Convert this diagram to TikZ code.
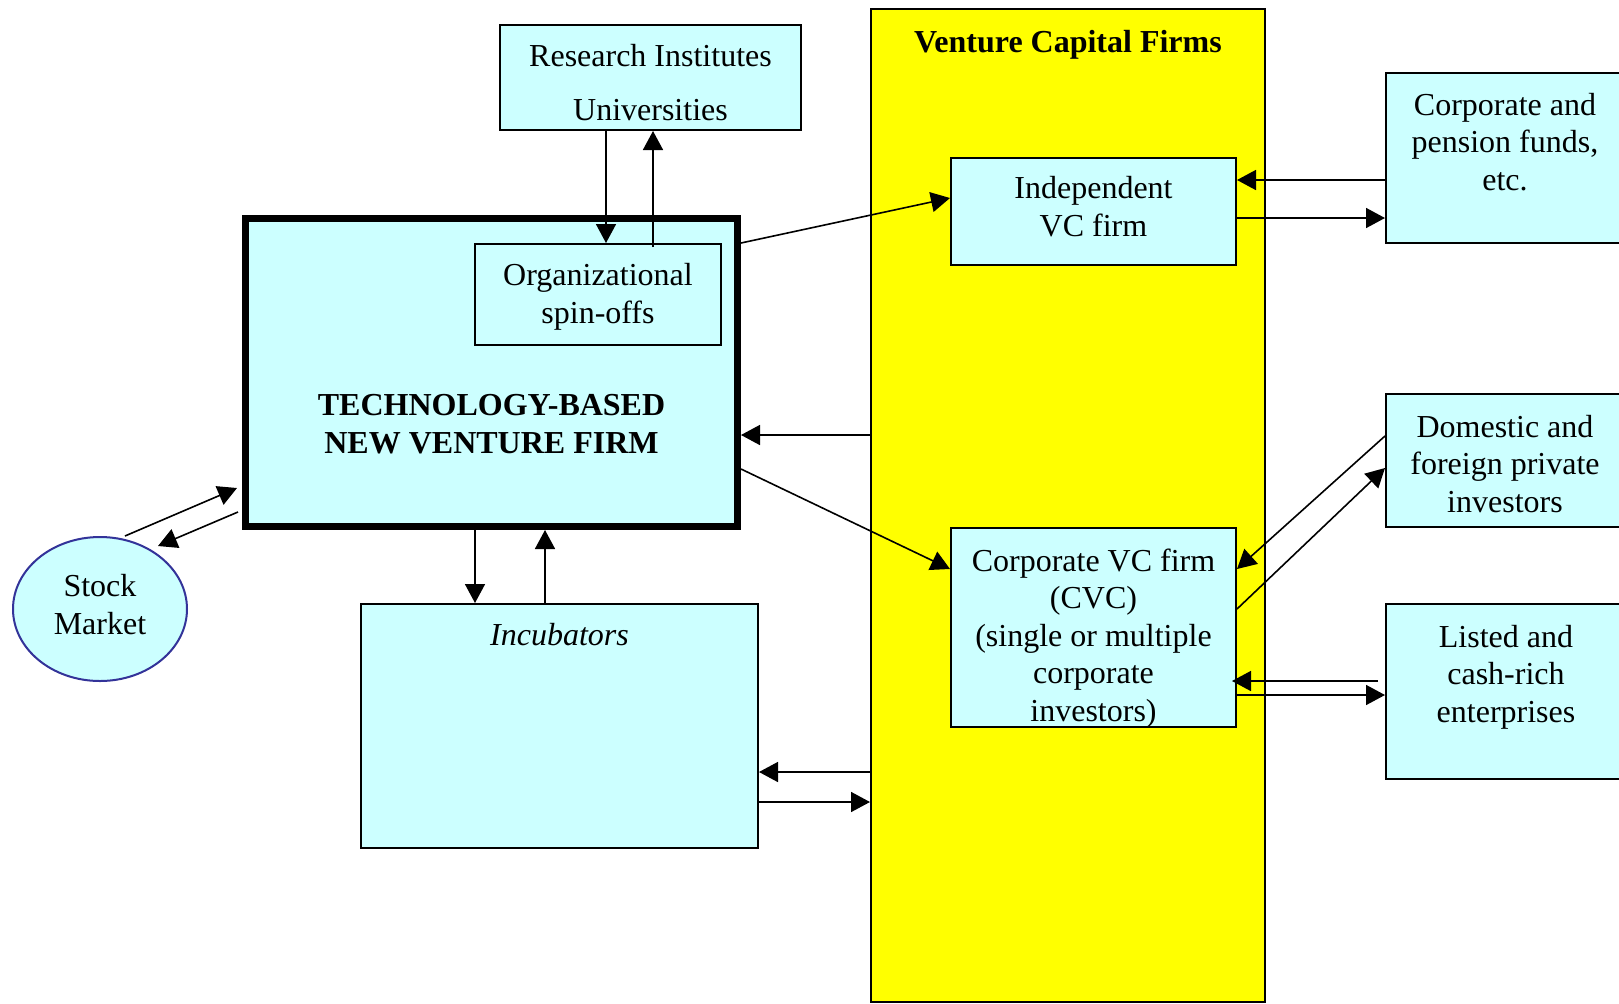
\documentclass[tikz,border=0pt]{standalone}
\usepackage{fontspec}
\setmainfont{Liberation Serif}
\usetikzlibrary{arrows.meta,shapes.geometric}
\definecolor{boxcyan}{RGB}{204,255,255}
\definecolor{vcyellow}{RGB}{255,255,0}
\definecolor{ovalblue}{RGB}{51,51,153}
\begin{document}
\begin{tikzpicture}[x=0.5pt,y=-0.5pt,
  cbox/.style={draw=black, line width=1pt, fill=boxcyan, rectangle, inner sep=0pt},
  % labels are placed by the baseline of their last line
  lbl/.style={font=\fontsize{16}{18.75}\selectfont, align=center, anchor=base, inner sep=0pt},
  blbl/.style={lbl, font=\fontsize{16}{18.75}\selectfont\bfseries},
  arr/.style={line width=0.8pt, -{Triangle[length=9.5pt,width=10pt]}},
  ]
\useasboundingbox (0,0) rectangle (1619,1003);
\fill[white] (0,0) rectangle (1619,1003);
\clip (0,0) rectangle (1619,1003);

% venture capital column
\node[draw=black, line width=1pt, fill=vcyellow, inner sep=0pt,
      minimum width=197pt, minimum height=496.5pt] (vcf) at (1068,505.5) {};
\node[blbl] (vcfT) at (1068,52) {Venture Capital Firms};

\node[cbox, minimum width=142.5pt, minimum height=53.5pt] (indep) at (1093.5,211.5) {};
\node[lbl] (indepT) at (1093.5,236) {Independent\\VC firm};

\node[cbox, minimum width=142.5pt, minimum height=99.5pt] (cvc) at (1093.5,627.5) {};
\node[lbl] (cvcT) at (1093.5,721) {Corporate VC firm\\(CVC)\\(single or multiple\\corporate\\investors)};

% sources of knowledge and the new venture
\node[cbox, minimum width=150.5pt, minimum height=52.5pt] (res) at (650.5,77.5) {};
\node[lbl] (resT) at (650.5,120) {Research Institutes\\[8pt]Universities};

\node[cbox, line width=3.5pt, minimum width=246pt, minimum height=154pt] (main) at (491.5,372.5) {};
\node[blbl] (mainT) at (491.5,453) {TECHNOLOGY-BASED\\NEW VENTURE FIRM};

\node[cbox, minimum width=123pt, minimum height=50.5pt] (org) at (598,294.5) {};
\node[lbl] (orgT) at (598,323) {Organizational\\spin-offs};

\node[cbox, minimum width=198.5pt, minimum height=122pt] (inc) at (559.5,726) {};
\node[lbl, font=\fontsize{16}{18.75}\selectfont\itshape] (incT) at (559.5,645) {Incubators};

\node[ellipse, draw=ovalblue, line width=1pt, fill=boxcyan, inner sep=0pt,
      minimum width=87pt, minimum height=72pt] (stock) at (100,609) {};
\node[lbl] (stockT) at (100,634) {Stock\\Market};

% investors on the right
\node[cbox, minimum width=119pt, minimum height=85pt] (cp) at (1505,158) {};
\node[lbl] (cpT) at (1505,190) {Corporate and\\pension funds,\\etc.};

\node[cbox, minimum width=119pt, minimum height=66.5pt] (dom) at (1505,460.5) {};
\node[lbl] (domT) at (1505,512) {Domestic and\\foreign private\\investors};

\node[cbox, minimum width=119pt, minimum height=87.5pt] (lst) at (1505,691.5) {};
\node[lbl] (lstT) at (1506,722) {Listed and\\cash-rich\\enterprises};

% flows
\draw[arr] ([xshift=-22.25pt]res.south) -- ([xshift=4pt]org.north);
\draw[arr] ([xshift=27.5pt,yshift=-2pt]org.north) -- ([xshift=1.25pt]res.south);
\draw[arr] ([yshift=-14pt]main.north east) -- ([yshift=6.75pt]indep.west);
\draw[arr] ([yshift=-48.25pt]main.east) -- ([yshift=29.25pt]cvc.west);
\draw[arr] ([yshift=35.25pt]vcf.west) -- ([yshift=-31.25pt]main.east);
\draw[arr] ([xshift=-8.25pt]main.south) -- ([xshift=-42.25pt]inc.north);
\draw[arr] ([xshift=-7.25pt]inc.north) -- ([xshift=26.75pt]main.south);
\draw[arr] ([yshift=-133.25pt]vcf.west) -- ([yshift=-23pt]inc.east);
\draw[arr] ([yshift=-38pt]inc.east) -- ([yshift=-148.25pt]vcf.west);
\draw[arr] ([yshift=-11pt]cp.west) -- ([yshift=15.75pt]indep.east);
\draw[arr] ([yshift=-3.25pt]indep.east) -- ([yshift=-30pt]cp.west);
\draw[arr] ([yshift=12.25pt]dom.west) -- ([yshift=29.25pt]cvc.east);
\draw[arr] ([yshift=9.25pt]cvc.east) -- ([yshift=-3.75pt]dom.west);
\draw[arr] ([xshift=-3.5pt,yshift=5.25pt]lst.west) -- ([xshift=-2.5pt,yshift=-26.75pt]cvc.east);
\draw[arr] ([yshift=-33.75pt]cvc.east) -- ([yshift=-1.75pt]lst.west);
\draw[arr] ([xshift=12.5pt]stock.north) -- ([xshift=-2.5pt,yshift=-57.75pt]main.west);
\draw[arr] ([xshift=-2pt,yshift=-69.75pt]main.west) -- ([xshift=29pt,yshift=-5pt]stock.north);
\end{tikzpicture}
\end{document}
